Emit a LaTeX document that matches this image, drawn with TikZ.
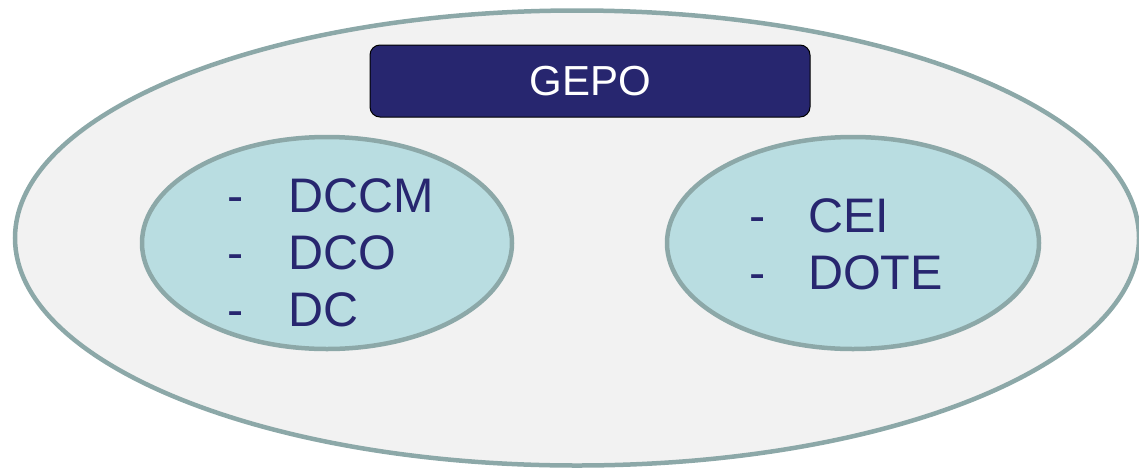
\documentclass[tikz,border=0pt]{standalone}
\usepackage{fontspec}
\setmainfont{Liberation Sans}
\usetikzlibrary{shapes.geometric}
\definecolor{navy}{HTML}{27266F}
\definecolor{rim}{HTML}{8CA8A8}
\definecolor{pale}{HTML}{F2F2F2}
\definecolor{aqua}{HTML}{B9DDE1}

\begin{document}
\begin{tikzpicture}[x=1pt, y=-1pt,
    zone/.style={ellipse, draw=rim, line width=4.5pt, inner sep=0pt},
    item/.style={anchor=base west, inner sep=0pt, text=navy, font=\fontsize{48.5}{48.5}\selectfont}]
  \useasboundingbox (0,0) rectangle (1139,469);

  % outer area
  \node[zone, fill=pale, minimum width=1124pt, minimum height=455pt] (area) at (577,238) {};

  % heading
  \node[draw=black, line width=1pt, fill=navy, rounded corners=10pt, minimum width=440pt,
        minimum height=72pt, text=white, font=\fontsize{42}{42}\selectfont] (gepo) at (590,81) {GEPO};

  % groups
  \node[zone, fill=aqua, minimum width=370pt, minimum height=212pt] (left) at (327,243) {};
  \node[zone, fill=aqua, minimum width=372pt, minimum height=212pt] (right) at (853,243) {};

  % left list
  \node[item] (d1) at (227,212) {-};
  \node[item] (dccm) at (288,212) {DCCM};
  \node[item] (d2) at (227,269) {-};
  \node[item] (dco) at (288,269) {DCO};
  \node[item] (d3) at (227,326) {-};
  \node[item] (dc) at (288,326) {DC};

  % right list
  \node[item] (d4) at (749,232) {-};
  \node[item] (cei) at (808,232) {CEI};
  \node[item] (d5) at (749,289) {-};
  \node[item] (dote) at (808,289) {DOTE};
\end{tikzpicture}
\end{document}
